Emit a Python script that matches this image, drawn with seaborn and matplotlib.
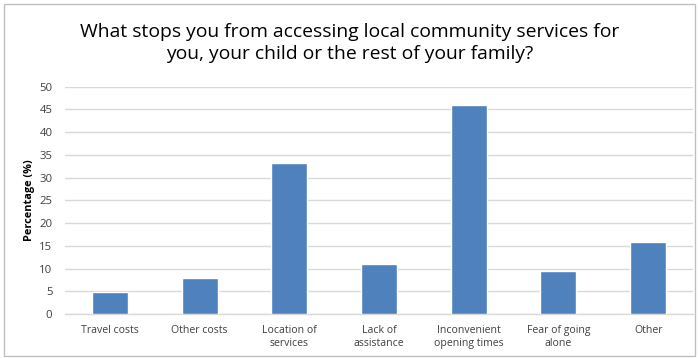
import matplotlib
matplotlib.use("Agg")
import matplotlib.pyplot as plt
import seaborn as sns
import pandas as pd
from matplotlib.patches import Rectangle

categories = ["Travel costs", "Other costs", "Location of\nservices", "Lack of\nassistance",
              "Inconvenient\nopening times", "Fear of going\nalone", "Other"]
percentages = [4.9, 7.9, 33.2, 11.1, 45.9, 9.5, 15.9]
yticks = list(range(0, 51, 5))

df = pd.DataFrame({"reason": categories, "pct": percentages})

sns.set_theme(style="white")
plt.rcParams["font.family"] = ["Open Sans", "DejaVu Sans"]

fig = plt.figure(figsize=(6.99, 3.58), dpi=100)
ax = fig.add_axes([65 / 699, 1 - 314 / 358, (693 - 65) / 699, (314 - 86.7) / 358])

sns.barplot(data=df, x="reason", y="pct", color="#4f81bd", width=0.4,
            saturation=1, ax=ax, zorder=3)

ax.set_ylim(0, 50)
ax.set_yticks(yticks)
ax.yaxis.grid(True, color="#d9d9d9", linewidth=1, zorder=0)
ax.set_axisbelow(True)
for side in ["left", "right", "top"]:
    ax.spines[side].set_visible(False)
ax.spines["bottom"].set_color("#d9d9d9")
ax.spines["bottom"].set_linewidth(1)
ax.tick_params(axis="x", length=0, labelsize=7.6, colors="#404040", pad=8)
ax.tick_params(axis="y", length=0, labelsize=8.2, colors="#404040", pad=9)
ax.set_xlabel("")
ax.set_ylabel("Percentage (%)", fontsize=7.8, fontweight="bold", color="#000000", labelpad=3)

fig.text(0.5, 1 - 43 / 358, "What stops you from accessing local community services for\n"
         "you, your child or the rest of your family?",
         ha="center", va="center", fontsize=13.9, color="#000000", linespacing=1.25)

fig.patches.append(Rectangle((4 / 699, 2 / 358), 691 / 699, 352 / 358, transform=fig.transFigure,
                             fill=False, edgecolor="#bfbfbf", linewidth=1))

fig.savefig("out.png", dpi=100)
